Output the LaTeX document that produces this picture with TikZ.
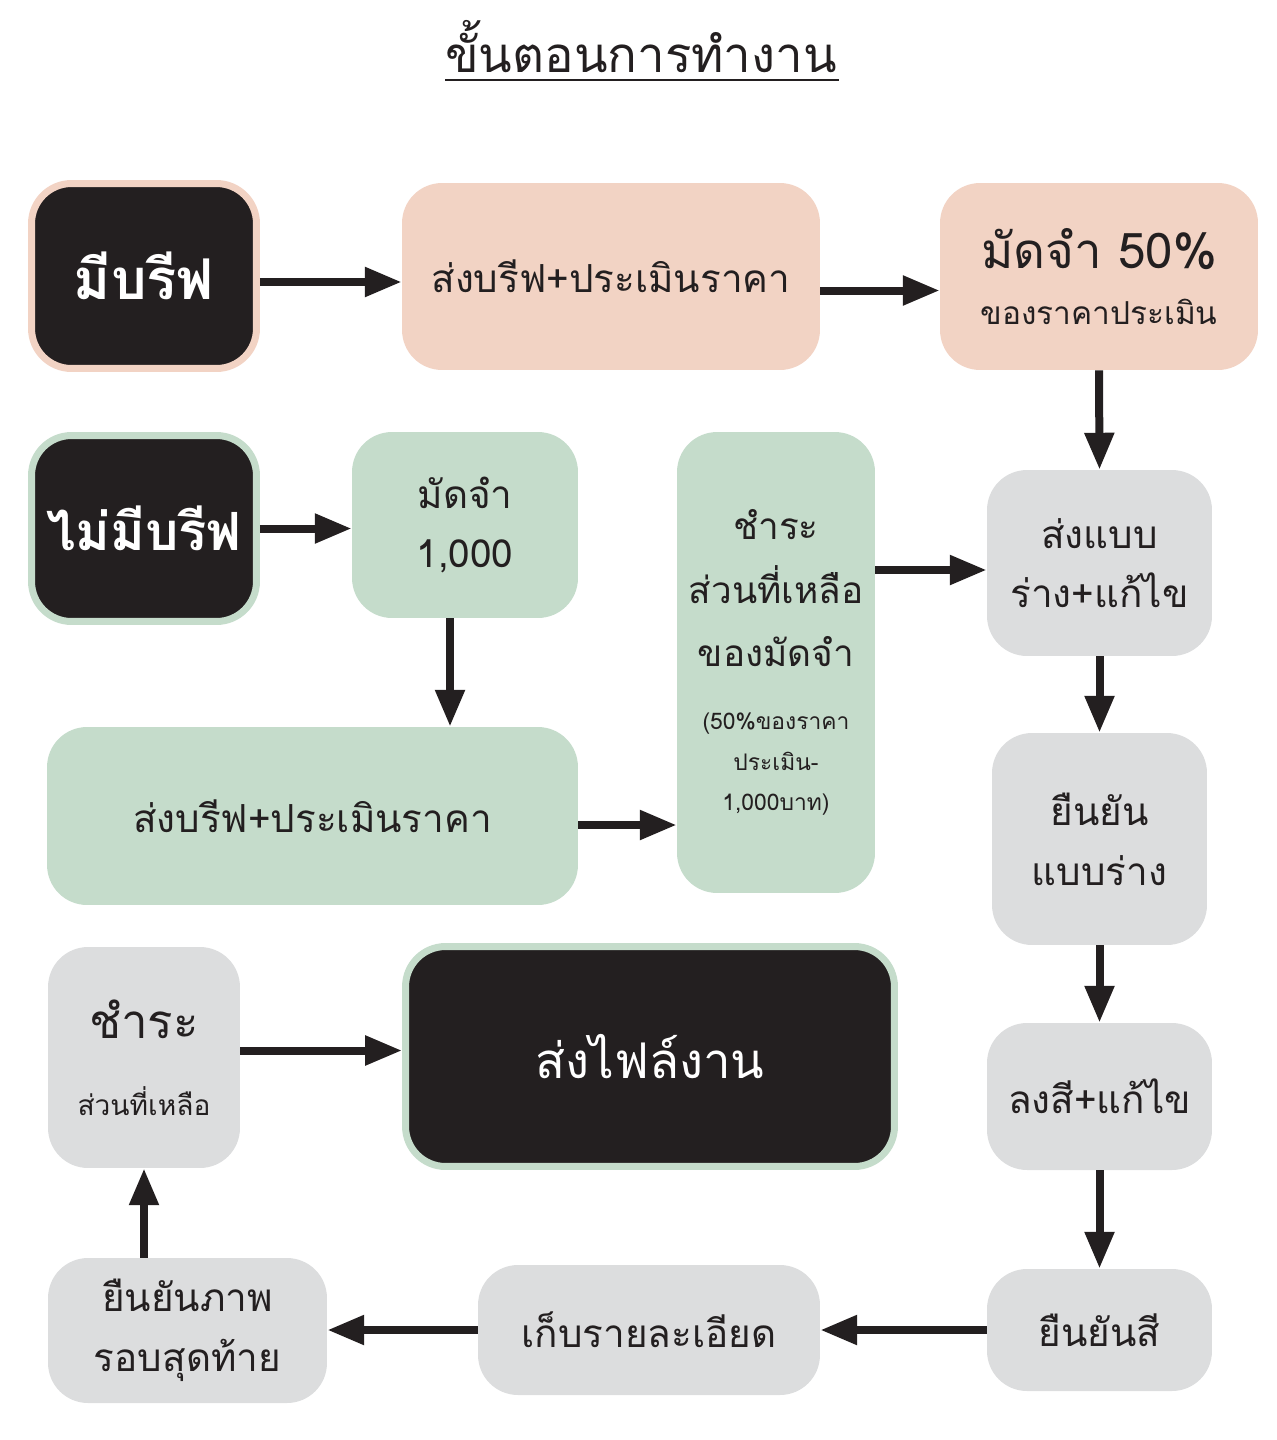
\documentclass[tikz,border=0pt]{standalone}
\usepackage{fontspec}
\newfontfamily\thai[Script=Thai]{Loma}
\usepackage{tikz}
\usetikzlibrary{arrows.meta}
\usepackage{xcolor}
\definecolor{pinkfill}{HTML}{F2D3C4}
\definecolor{greenfill}{HTML}{C5DCCB}
\definecolor{grayfill}{HTML}{DCDDDE}
\definecolor{darkfill}{HTML}{231F20}
\newcommand{\fs}[2]{\thai\fontsize{#1}{#2}\selectfont}
\tikzset{
  box/.style={rectangle, rounded corners=0.8cm, inner sep=0pt, align=center, text=darkfill, font=\fs{22}{34}},
  pinkbox/.style={box, fill=pinkfill},
  greenbox/.style={box, fill=greenfill},
  graybox/.style={box, fill=grayfill},
  darkbox/.style={box, fill=darkfill, line width=0.14cm, text=white},
  arr/.style={line width=0.16cm, color=darkfill, -{Triangle[length=21pt,width=16pt]}}
}

\begin{document}
\begin{tikzpicture}[x=0.02cm,y=-0.02cm,font=\thai]
\useasboundingbox (0,0) rectangle (1276,1440);
  % title
  \node[anchor=base, text=darkfill, font=\fs{28}{32}] (title) at (641,72) {ขั้นตอนการทำงาน};
  \draw[line width=0.05cm, darkfill] (445,80) -- (839,80);

  %%%%%%% with brief
  \node[darkbox, draw=pinkfill, minimum width=4.5cm, minimum height=3.7cm, font=\fs{32}{36}\bfseries] (A) at (144,276)
       {มีบรีฟ};
  \node[pinkbox, minimum width=8.36cm, minimum height=3.74cm] (B) at (611,276.5)
       {ส่งบรีฟ+ประเมินราคา};
  \node[pinkbox, minimum width=6.36cm, minimum height=3.74cm, font=\fs{18}{32}] (C) at (1099,276.5)
       {\fs{28}{32}มัดจำ 50\%\\ ของราคาประเมิน};

  %%%%%%% without brief
  \node[darkbox, draw=greenfill, minimum width=4.5cm, minimum height=3.72cm, font=\fs{30}{36}\bfseries] (D) at (144,528.5)
       {ไม่มีบรีฟ};
  \node[greenbox, minimum width=4.52cm, minimum height=3.72cm] (E) at (465,525)
       {มัดจำ\\ 1,000};
  \node[greenbox, minimum width=10.62cm, minimum height=3.56cm] (F) at (312.5,816)
       {ส่งบรีฟ+ประเมินราคา};
  \node[greenbox, minimum width=3.96cm, minimum height=9.22cm, font=\fs{21}{36}] (G) at (776,662.5)
       {ชำระ\\ ส่วนที่เหลือ\\ ของมัดจำ\\
        \fs{13}{23}(50\%ของราคา\\[-13pt] \fs{13}{23}ประเมิน-\\[-13pt] \fs{13}{23}1,000บาท)};

  %%%%%%% common steps
  \node[graybox, minimum width=4.5cm, minimum height=3.72cm] (H) at (1099.5,563)
       {ส่งแบบ\\ ร่าง+แก้ไข};
  \node[graybox, minimum width=4.3cm, minimum height=4.24cm] (I) at (1099.5,839)
       {ยืนยัน\\ แบบร่าง};
  \node[graybox, minimum width=4.5cm, minimum height=2.94cm] (J) at (1099.5,1096.5)
       {ลงสี+แก้ไข};
  \node[graybox, minimum width=4.5cm, minimum height=2.44cm] (K) at (1099.5,1330)
       {ยืนยันสี};
  \node[graybox, minimum width=6.84cm, minimum height=2.6cm] (L) at (649,1330)
       {เก็บรายละเอียด};
  \node[graybox, minimum width=5.58cm, minimum height=2.9cm] (M) at (187.5,1330.5)
       {ยืนยันภาพ\\ รอบสุดท้าย};
  \node[graybox, minimum width=3.84cm, minimum height=4.42cm, font=\fs{16}{44}] (N) at (144,1057.5)
       {\fs{27}{44}ชำระ\\ ส่วนที่เหลือ};
  \node[darkbox, draw=greenfill, minimum width=9.78cm, minimum height=4.4cm, font=\fs{28}{34}] (O) at (650,1056.5)
       {ส่งไฟล์งาน};

  %%%%%%% ARROWS
  \draw[arr] ([yshift=-0.12cm]A.east) -- ([yshift=-0.12cm]A.east -| B.west);
  \draw[arr] ([yshift=-0.28cm]B.east) -- ([yshift=-0.28cm]B.east -| C.west);
  \draw[arr] (C.south) -- (H.north);
  \draw[arr] (D.east) -- (D.east -| E.west);
  \draw[arr] ([xshift=-0.3cm]E.south) -- ([xshift=-0.3cm]E.south |- F.north);
  \draw[arr] ([yshift=-0.18cm]F.east) -- ([yshift=-0.18cm]F.east -| G.west);
  \draw[arr] ([yshift=-0.14cm]H.west -| G.east) -- ([yshift=-0.14cm]H.west);
  \draw[arr] (H.south) -- (I.north);
  \draw[arr] (I.south) -- (J.north);
  \draw[arr] (J.south) -- (K.north);
  \draw[arr] (K.west) -- (K.west -| L.east);
  \draw[arr] (L.west) -- (L.west -| M.east);
  \draw[arr] (N.south |- M.north) -- (N.south);
  \draw[arr] ([yshift=0.14cm]N.east) -- ([yshift=0.14cm]N.east -| O.west);
\end{tikzpicture}
\end{document}
